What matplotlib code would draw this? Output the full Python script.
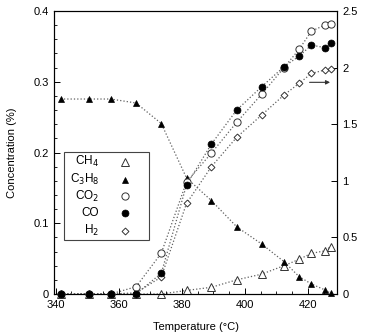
import matplotlib
matplotlib.use("Agg")
import matplotlib.pyplot as plt
from matplotlib.ticker import MultipleLocator, FuncFormatter
from matplotlib.patches import Rectangle

plt.rcParams['font.family'] = ['Liberation Sans', 'DejaVu Sans']

# Temperatures (°C)
temps = [341.6, 350.6, 357.5, 365.5, 373.5, 381.5, 389.4, 397.4, 405.3, 412.4, 417.2, 421.1, 425.4, 427.2]

# Left axis (Concentration %)
c3h8 = [0.2756, 0.2756, 0.2756, 0.270, 0.241, 0.164, 0.132, 0.095, 0.0707, 0.0457, 0.0245, 0.0141, 0.0057, 0.001]
ch4 = [0.0, 0.0, 0.0, 0.0, 0.0, 0.005, 0.0095, 0.020, 0.028, 0.040, 0.049, 0.0575, 0.061, 0.067]

# Right axis
co2 = [0.0, 0.0, 0.0, 0.064, 0.36, 0.99, 1.245, 1.517, 1.764, 2.0, 2.162, 2.323, 2.376, 2.385]
co = [0.0, 0.0, 0.0, 0.0, 0.183, 0.963, 1.325, 1.625, 1.831, 2.008, 2.102, 2.199, 2.176, 2.22]
h2 = [0.0, 0.0, 0.0, 0.01, 0.15, 0.80, 1.125, 1.384, 1.581, 1.758, 1.861, 1.949, 1.979, 1.985]

series_names = ['CH$_4$', 'C$_3$H$_8$', 'CO$_2$', 'CO', 'H$_2$']

fig = plt.figure(figsize=(3.66, 3.34), dpi=100)
ax = fig.add_axes([0.1484, 0.1198, 0.7724, 0.8472])
ax2 = ax.twinx()

lc = '#606060'
ls = dict(color=lc, linestyle=':', linewidth=0.9)

# left axis series
ax.plot(temps, ch4, **ls, zorder=1)
ax.plot(temps, c3h8, **ls, zorder=1)
ax.plot(temps, ch4, linestyle='none', marker='^', markersize=5.2, mfc='white', mec='#333333', mew=0.7, zorder=3, clip_on=False)
ax.plot(temps, c3h8, linestyle='none', marker='^', markersize=4.8, mfc='black', mec='black', mew=0.5, zorder=4, clip_on=False)

# right axis series
ax2.plot(temps, h2, **ls, zorder=1)
ax2.plot(temps, co2, **ls, zorder=1)
ax2.plot(temps, co, **ls, zorder=1)
ax2.plot(temps, h2, linestyle='none', marker='D', markersize=3.5, mfc='white', mec='#333333', mew=0.7, zorder=3, clip_on=False)
ax2.plot(temps, co2, linestyle='none', marker='o', markersize=5.2, mfc='white', mec='#333333', mew=0.7, zorder=3, clip_on=False)
ax2.plot(temps, co, linestyle='none', marker='o', markersize=5.0, mfc='black', mec='black', mew=0.5, zorder=4, clip_on=False)

ax.set_xlim(339.6, 429.2)
ax.set_ylim(0, 0.4)
ax2.set_ylim(0, 2.5)

ax.xaxis.set_major_locator(MultipleLocator(20))
ax.xaxis.set_minor_locator(MultipleLocator(5))
ax.yaxis.set_major_locator(MultipleLocator(0.1))
ax.yaxis.set_minor_locator(MultipleLocator(0.02))
ax2.yaxis.set_major_locator(MultipleLocator(0.5))

fmt = FuncFormatter(lambda v, p: ('%g' % round(v, 3)))
ax.yaxis.set_major_formatter(fmt)
ax2.yaxis.set_major_formatter(fmt)

for a in (ax, ax2):
    a.tick_params(which='both', direction='in', labelsize=8, colors='black')
    a.tick_params(which='major', length=4, width=0.7)
    a.tick_params(which='minor', length=2.5, width=0.6)
    for s in a.spines.values():
        s.set_linewidth(0.8)
ax.tick_params(axis='x', which='both', top=False, pad=4)
ax.tick_params(axis='y', which='both', right=False, pad=4)
ax2.tick_params(axis='y', which='both', left=False, pad=4)

ax.set_xlabel('Temperature (°C)', fontsize=8, labelpad=9)
ax.set_ylabel('Concentration (%)', fontsize=8, labelpad=12)

# arrow pointing to right axis
ax2.annotate('', xy=(427.0, 1.87), xytext=(420.5, 1.87),
             arrowprops=dict(arrowstyle='-|>', color='#333333', lw=0.8,
                             mutation_scale=6, shrinkA=0, shrinkB=0))

# legend box (manual, text right-aligned, marker on right)
tr = ax2.transAxes
ax2.add_patch(Rectangle((0.034, 0.192), 0.301, 0.3085, transform=tr, fill=False,
                        edgecolor='#444444', linewidth=0.8, zorder=5))
leg_styles = [
    dict(marker='^', markersize=5.2, mfc='white', mec='#333333', mew=0.7),
    dict(marker='^', markersize=4.8, mfc='black', mec='black', mew=0.5),
    dict(marker='o', markersize=5.2, mfc='white', mec='#333333', mew=0.7),
    dict(marker='o', markersize=5.0, mfc='black', mec='black', mew=0.5),
    dict(marker='D', markersize=3.5, mfc='white', mec='#333333', mew=0.7),
]
row_y = [0.468, 0.4045, 0.346, 0.2845, 0.223]
for name, st, yy in zip(series_names, leg_styles, row_y):
    ax2.text(0.158, yy, name, transform=tr, ha='right', va='center', fontsize=8.5, zorder=6)
    ax2.plot([0.249], [yy], transform=tr, linestyle='none', clip_on=False, zorder=6, **st)

fig.savefig('out.png', dpi=100)
